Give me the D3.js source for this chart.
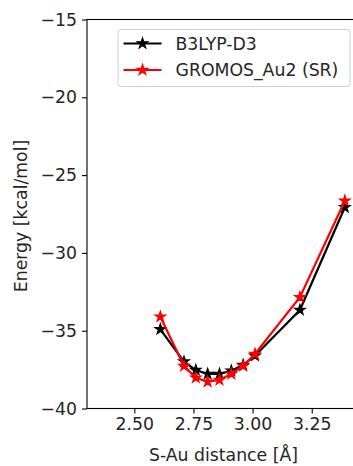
<!DOCTYPE html>
<html><head><meta charset="utf-8">
<script src="https://cdn.jsdelivr.net/npm/d3@7"></script>
<style>body{margin:0;background:#fff;} svg{display:block;font-family:"DejaVu Sans",sans-serif;}</style>
</head><body>
<script>
const distances = [2.61, 2.71, 2.76, 2.81, 2.86, 2.91, 2.96, 3.01, 3.20, 3.39];
const b3lyp = [-34.91, -36.99, -37.53, -37.78, -37.78, -37.57, -37.20, -36.61, -33.67, -27.07];
const gromos = [-34.10, -37.27, -38.02, -38.28, -38.17, -37.78, -37.27, -36.50, -32.85, -26.65];
const seriesNames = ["B3LYP-D3", "GROMOS_Au2 (SR)"];
const seriesColors = ["#000000", "#ff0000"];
const xTicks = [2.50, 2.75, 3.00, 3.25];
const yTicks = [-40, -35, -30, -25, -20, -15];

(function () {
const W = 353, H = 466;
const svg = d3.select("body").append("svg").attr("width", W).attr("height", H);
const mL = 87, mR = 360, mT = 19.5, mB = 408.5;
const x = d3.scaleLinear().domain([2.3, 3.454]).range([mL, mR]);
const y = d3.scaleLinear().domain([-40, -15]).range([mB, mT]);
const fs = 17.3;

const g = svg.append("g");
const xAxis = d3.axisBottom(x).tickValues(xTicks).tickFormat(d3.format(".2f")).tickSize(5).tickPadding(4);
const yAxis = d3.axisLeft(y).tickValues(yTicks).tickFormat(d => d3.format("d")(d).replace("-", "\u2212")).tickSize(5).tickPadding(5);
const gx = g.append("g").attr("transform", `translate(0,${mB})`).call(xAxis);
const gy = g.append("g").attr("transform", `translate(${mL},0)`).call(yAxis);
[gx, gy].forEach(a => {
  a.select(".domain").remove();
  a.selectAll(".tick line").attr("stroke", "#000").attr("stroke-width", 1.1);
  a.selectAll(".tick text").attr("fill", "#262626").style("font-size", fs + "px").style("font-family", "DejaVu Sans");
});
g.append("rect").attr("x", mL).attr("y", mT).attr("width", mR - mL).attr("height", mB - mT)
  .attr("fill", "none").attr("stroke", "#000").attr("stroke-width", 1.1);

const star = d3.symbol().type(d3.symbolStar).size(34);
const data = [b3lyp, gromos];
data.forEach((vals, i) => {
  const pts = distances.map((d, j) => [d, vals[j]]);
  g.append("path").datum(pts)
    .attr("fill", "none").attr("stroke", seriesColors[i]).attr("stroke-width", 2.2)
    .attr("d", d3.line().x(d => x(d[0])).y(d => y(d[1])));
  g.selectAll(null).data(pts).enter().append("path")
    .attr("transform", d => `translate(${x(d[0])},${y(d[1])})`)
    .attr("d", star).attr("fill", seriesColors[i]).attr("stroke", seriesColors[i]).attr("stroke-width", 1.2);
});

svg.append("text").attr("x", (mL + mR) / 2).attr("y", 460.5).attr("text-anchor", "middle")
  .style("font-size", fs + "px").attr("fill", "#262626").text("S-Au distance [Å]");
svg.append("text").attr("transform", `translate(26.5,${(mT + mB) / 2 + 2}) rotate(-90)`).attr("text-anchor", "middle")
  .style("font-size", fs + "px").attr("fill", "#262626").text("Energy [kcal/mol]");

const lg = svg.append("g");
lg.append("rect").attr("x", 118).attr("y", 29.5).attr("width", 232).attr("height", 57).attr("rx", 3)
  .attr("fill", "#fff").attr("fill-opacity", 0.8).attr("stroke", "#d0d0d0").attr("stroke-width", 1);
seriesNames.forEach((name, i) => {
  const cy = 43.5 + i * 26.5;
  lg.append("line").attr("x1", 123.5).attr("x2", 161.5).attr("y1", cy).attr("y2", cy)
    .attr("stroke", seriesColors[i]).attr("stroke-width", 2.2);
  lg.append("path").attr("transform", `translate(142.5,${cy})`).attr("d", star)
    .attr("fill", seriesColors[i]).attr("stroke", seriesColors[i]).attr("stroke-width", 1.2);
  lg.append("text").attr("x", 175.5).attr("y", cy).attr("dy", "0.36em")
    .style("font-size", fs + "px").attr("fill", "#262626").text(name);
});
})();
</script>
</body></html>
